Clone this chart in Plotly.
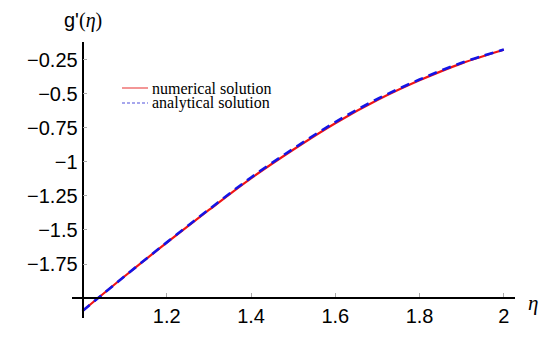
import plotly.graph_objects as go

eta = [1.0, 1.1, 1.2, 1.3, 1.4, 1.5, 1.6, 1.7, 1.8, 1.9, 2.0]
numerical = [-2.095, -1.84, -1.593, -1.353, -1.12, -0.91, -0.715, -0.545, -0.40, -0.275, -0.175]
analytical = [-2.095, -1.84, -1.591, -1.349, -1.114, -0.903, -0.707, -0.537, -0.394, -0.271, -0.174]

x_ticks = [1.2, 1.4, 1.6, 1.8, 2.0]
x_ticktext = ["1.2", "1.4", "1.6", "1.8", "2"]
y_ticks = [-1.75, -1.5, -1.25, -1.0, -0.75, -0.5, -0.25]
y_ticktext = ["\u22121.75", "\u22121.5", "\u22121.25", "\u22121", "\u22120.75", "\u22120.5", "\u22120.25"]

W, H = 550, 342
ml, mr, mt, mb = 72, 35, 42, 24
xr = [0.975, 2.0266]
yr = [-2.147, -0.118]

def px_frac(v):
    return (v - xr[0]) / (xr[1] - xr[0])

def py_frac(v):
    return (v - yr[0]) / (yr[1] - yr[0])

fig = go.Figure()
fig.add_trace(go.Scatter(x=eta, y=numerical, mode="lines", name="numerical solution",
                         line=dict(color="rgb(240,20,20)", width=2.2, shape="spline"),
                         showlegend=False))
fig.add_trace(go.Scatter(x=eta, y=analytical, mode="lines", name="analytical solution",
                         line=dict(color="rgb(20,20,230)", width=2.6, dash="9px,6px", shape="spline"),
                         showlegend=False))

axis_font = dict(family="Liberation Sans, Arial, sans-serif", size=20, color="black")

fig.update_layout(
    width=W, height=H,
    margin=dict(l=ml, r=mr, t=mt, b=mb),
    paper_bgcolor="white", plot_bgcolor="white",
    xaxis=dict(range=xr, anchor="free", position=py_frac(-2.0),
               showline=True, linecolor="black", linewidth=1.8,
               showgrid=False, zeroline=False,
               tickvals=x_ticks, ticktext=x_ticktext, ticks="inside",
               ticklen=4, tickcolor="rgb(170,170,170)", tickwidth=1,
               tickfont=axis_font),
    yaxis=dict(range=yr, anchor="free", position=px_frac(1.0),
               showline=True, linecolor="black", linewidth=1.8,
               showgrid=False, zeroline=False,
               tickvals=y_ticks, ticktext=y_ticktext, ticks="inside",
               ticklen=4, tickcolor="rgb(170,170,170)", tickwidth=1,
               tickfont=axis_font),
)

# axis labels
fig.add_annotation(xref="paper", yref="paper", x=px_frac(1.0), y=1.0, yshift=22,
                   xanchor="center", yanchor="middle", showarrow=False,
                   text="g'<span style='font-family:Liberation Serif'>(<i>\u03b7</i>)</span>",
                   font=axis_font)
fig.add_annotation(xref="paper", yref="paper", x=1.0, xshift=18, y=py_frac(-2.0), yshift=-5,
                   xanchor="center", yanchor="middle", showarrow=False,
                   text="<i>\u03b7</i>",
                   font=dict(family="Liberation Serif, Times New Roman, serif", size=21, color="black"))

# legend (manual)
leg_font = dict(family="Liberation Serif, Times New Roman, serif", size=16, color="black")
pw = W - ml - mr
ph = H - mt - mb
def fx(p):
    return (p - ml) / pw
def fy(p):
    return 1 - (p - mt) / ph

fig.add_shape(type="line", xref="paper", yref="paper", x0=fx(122), x1=fx(148), y0=fy(88), y1=fy(88),
              line=dict(color="rgb(235,80,80)", width=1.2))
fig.add_shape(type="line", xref="paper", yref="paper", x0=fx(122), x1=fx(148), y0=fy(103), y1=fy(103),
              line=dict(color="rgb(80,80,220)", width=1.2, dash="3px,2px"))
fig.add_annotation(xref="paper", yref="paper", x=fx(150), y=fy(88), xanchor="left", yanchor="middle",
                   showarrow=False, text="numerical solution", font=leg_font)
fig.add_annotation(xref="paper", yref="paper", x=fx(150), y=fy(103), xanchor="left", yanchor="middle",
                   showarrow=False, text="analytical solution", font=leg_font)

fig.write_html("out.html", config={"displayModeBar": False},
               post_script="document.body.style.margin='0';document.body.style.padding='0';")
